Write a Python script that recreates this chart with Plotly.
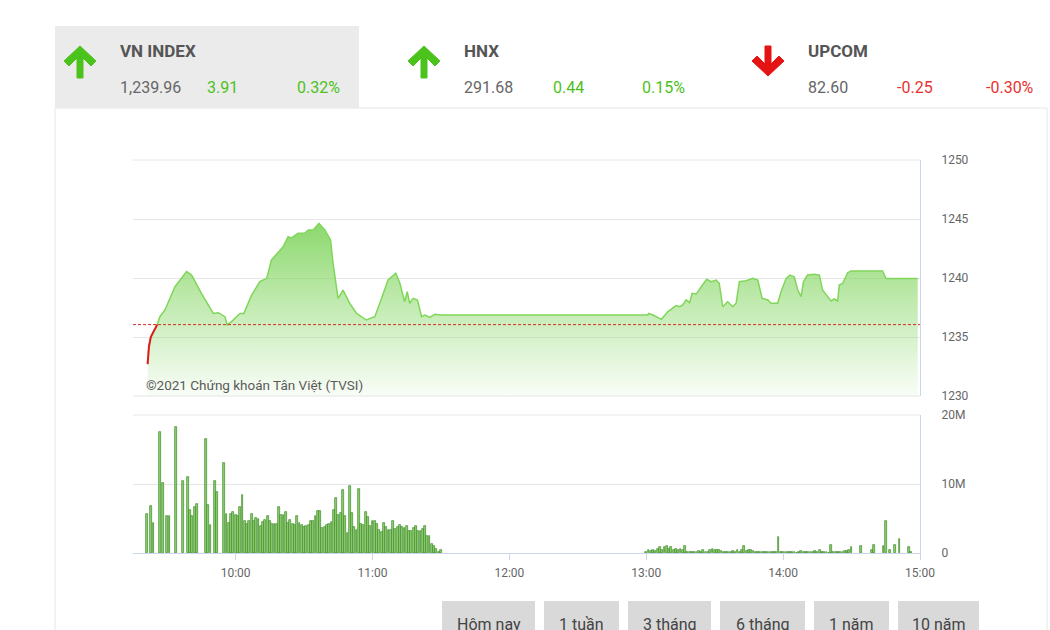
import pandas as pd
import plotly.graph_objects as go

DAY = "2021-01-04"

# ---------------- header data ----------------
idx_names = ["VN INDEX", "HNX", "UPCOM"]
idx_values = ["1,239.96", "291.68", "82.60"]
idx_changes = ["3.91", "0.44", "-0.25"]
idx_pcts = ["0.32%", "0.15%", "-0.30%"]
idx_up = [True, True, False]

# ---------------- price data (VN-Index intraday) ----------------
ref_price = 1236.05
price_time = [
    "09:21:24", "09:22:00", "09:22:48", "09:25:36", "09:26:48", "09:29:00", "09:33:24", "09:38:30",
    "09:40:42", "09:45:00", "09:50:12", "09:52:24", "09:55:18", "09:56:18", "09:58:12", "10:01:54",
    "10:03:36", "10:07:00", "10:10:36", "10:13:36", "10:15:42", "10:20:48", "10:23:00", "10:24:30",
    "10:27:24", "10:30:18", "10:31:48", "10:34:00", "10:36:30", "10:39:06", "10:41:36", "10:42:42",
    "10:44:54", "10:47:06", "10:50:00", "10:53:00", "10:57:18", "11:01:00", "11:03:12", "11:06:48",
    "11:10:12", "11:12:00", "11:14:06", "11:15:12", "11:16:18", "11:17:48", "11:19:42", "11:21:30",
    "11:22:54", "11:25:06", "11:27:18", "11:30:00", "13:00:42", "13:01:00", "13:02:54", "13:06:36",
    "13:09:30", "13:13:06", "13:14:36", "13:16:00", "13:17:30", "13:19:00", "13:20:06", "13:21:54",
    "13:24:06", "13:26:30", "13:28:24", "13:30:36", "13:32:00", "13:33:30", "13:35:42", "13:37:54",
    "13:39:24", "13:40:48", "13:43:48", "13:46:42", "13:48:54", "13:50:48", "13:53:18", "13:54:42",
    "13:57:36", "13:59:06", "14:01:18", "14:03:00", "14:04:54", "14:06:24", "14:07:54", "14:08:54",
    "14:10:42", "14:13:42", "14:15:54", "14:17:18", "14:19:30", "14:21:00", "14:22:24", "14:23:54",
    "14:24:36", "14:26:06", "14:28:18", "14:29:42", "14:43:36", "14:45:06", "14:59:00",
]
price_value = [
    1232.70, 1234.20, 1235.00, 1236.05, 1236.72, 1237.29, 1239.26, 1240.54,
    1240.25, 1238.70, 1237.00, 1237.06, 1236.72, 1236.02, 1236.30, 1237.00,
    1237.00, 1238.56, 1239.69, 1239.97, 1241.53, 1242.65, 1243.50, 1243.40,
    1243.79, 1243.79, 1244.07, 1244.07, 1244.63, 1244.07, 1243.22, 1241.24,
    1238.28, 1238.98, 1237.86, 1237.00, 1236.44, 1236.72, 1237.86, 1239.83,
    1240.40, 1239.55, 1237.99, 1238.84, 1237.86, 1238.28, 1238.14, 1236.72,
    1236.86, 1236.67, 1236.92, 1236.86, 1236.86, 1237.00, 1236.86, 1236.50,
    1237.15, 1237.66, 1237.57, 1237.71, 1238.14, 1237.91, 1238.70, 1238.64,
    1239.26, 1239.89, 1239.69, 1239.83, 1239.55, 1237.57, 1237.99, 1237.57,
    1237.86, 1239.69, 1239.77, 1239.97, 1239.83, 1238.28, 1238.14, 1237.86,
    1237.86, 1238.84, 1239.97, 1240.25, 1240.11, 1238.98, 1238.42, 1239.69,
    1240.25, 1240.31, 1240.25, 1238.98, 1238.42, 1238.05, 1238.22, 1238.05,
    1239.40, 1239.55, 1240.45, 1240.60, 1240.60, 1239.96, 1239.96,
]
price_ticks = [1230, 1235, 1240, 1245, 1250]

# ---------------- volume data (millions of shares) ----------------
vol_early_time = ["09:21", "09:23", "09:24", "09:27", "09:28", "09:30", "09:31", "09:34", "09:37", "09:39",
                  "09:40", "09:41", "09:42", "09:43", "09:47", "09:48", "09:49", "09:51", "09:52", "09:55"]
vol_early = [5.6, 6.8, 4.3, 17.6, 10.1, 5.3, 5.3, 18.2, 10.5, 11.0,
             6.3, 5.3, 6.6, 7.1, 16.5, 7.0, 4.0, 10.5, 8.8, 13.0]
vol_am_start = "09:56"
vol_am = [
    5.65, 4.35, 5.7, 6.0, 5.55, 5.3, 6.7, 8.45, 4.6, 4.2,
    4.6, 5.65, 4.6, 5.1, 4.9, 3.9, 4.5, 4.8, 5.3, 4.6,
    4.2, 4.2, 4.2, 6.6, 5.5, 5.5, 5.9, 4.4, 4.8, 4.2,
    4.0, 5.3, 4.35, 4.0, 3.7, 3.9, 4.0, 4.7, 4.6, 5.3,
    6.1, 6.1, 3.6, 3.8, 4.0, 4.25, 4.45, 6.2, 8.0, 5.55,
    5.8, 9.1, 5.3, 2.9, 9.75, 5.8, 3.75, 3.4, 9.3, 4.2,
    4.1, 5.9, 5.2, 3.9, 4.6, 4.7, 4.2, 3.4, 3.0, 4.35,
    3.75, 3.3, 3.3, 4.6, 3.5, 3.7, 4.0, 3.75, 3.6, 3.9,
    3.25, 3.15, 3.6, 3.9, 3.25, 3.25, 3.5, 3.9, 2.5, 2.5,
    1.35, 0.95, 0.6, 0.1, 0.4,
]
vol_pm_start = "13:00"
vol_pm = [
    0.15, 0.4, 0.3, 0.5, 0.3, 0.6, 0.8, 0.5, 0.8, 1.0,
    0.6, 0.8, 0.5, 0.6, 0.5, 0.6, 0.5, 1.05, 0.15, 0.15,
    0.1, 0.15, 0.1, 0.3, 0.2, 0.5, 0.15, 0.15, 0.5, 0.6,
    0.4, 0.5, 0.4, 0.3, 0.2, 0.2, 0.1, 0.1, 0.3, 0.2,
    0.5, 0.2, 0.4, 1.05, 0.3, 0.4, 0.5, 0.3, 0.1, 0.2,
    0.2, 0.2, 0.2, 0.2, 0.2, 0.2, 0.2, 0.2, 2.3, 0.2,
    0.2, 0.15, 0.2, 0.1, 0.15, 0.1, 0.0, 0.2, 0.3, 0.1,
    0.2, 0.15, 0.15, 0.2, 0.3, 0.2, 0.4, 0.1, 0.1, 0.15,
    0.0, 1.2, 0.15, 0.1, 0.1, 0.1, 0.1, 0.3, 0.3, 0.4,
    0.8,
]
vol_late_time = ["14:34", "14:39", "14:40", "14:44", "14:45", "14:47", "14:49", "14:51", "14:55", "14:56"]
vol_late = [1.0, 0.5, 1.2, 1.0, 4.7, 0.4, 1.2, 2.1, 0.8, 0.2]
vol_tickvals = [0, 10e6, 20e6]
vol_ticktext = ["0", "10M", "20M"]

buttons = ["Hôm nay", "1 tuần", "3 tháng", "6 tháng", "1 năm", "10 năm"]

# ---------------- helpers ----------------
W, H = 1050, 630
def px(x):
    return x / W
def py(y):
    return 1 - y / H

def ts(t):
    return pd.Timestamp(f"{DAY} {t}")

def minutes_from(start, n):
    base = ts(start)
    return [base + pd.Timedelta(minutes=i) for i in range(n)]

p_x = [ts(t) for t in price_time]
v_x = [ts(t) for t in vol_early_time] + minutes_from(vol_am_start, len(vol_am)) + \
      minutes_from(vol_pm_start, len(vol_pm)) + [ts(t) for t in vol_late_time]
v_y = [v * 1e6 for v in vol_early + vol_am + vol_pm + vol_late]

# points below reference price (opening dip) drawn in red
n_red = 0
for v in price_value:
    if v < ref_price:
        n_red += 1
    else:
        break

fig = go.Figure()

fig.add_trace(go.Scatter(
    x=p_x, y=price_value, mode="lines",
    line=dict(color="#80d65a", width=1.5),
    fill="tozeroy",
    fillgradient=dict(type="vertical", start=1230, stop=1247,
                      colorscale=[[0, "rgba(135,215,100,0.05)"], [1, "rgba(120,210,85,1)"]]),
    xaxis="x", yaxis="y", hoverinfo="skip", showlegend=False,
))
fig.add_trace(go.Scatter(
    x=p_x[:n_red + 1], y=price_value[:n_red + 1], mode="lines",
    line=dict(color="#e01b1b", width=2),
    xaxis="x", yaxis="y", hoverinfo="skip", showlegend=False,
))
fig.add_trace(go.Bar(
    x=v_x, y=v_y, width=48000,
    marker=dict(color="#8fcc72", line=dict(width=0.7, color="#3c8c27")),
    xaxis="x2", yaxis="y2", hoverinfo="skip", showlegend=False,
))

x_range = [ts("09:15"), ts("15:00")]
dom_x = [px(133), px(920)]
tickfont = dict(family="Roboto, sans-serif", size=12, color="#666666")
GRID = "#e6e6e6"

fig.update_layout(
    template="none",
    width=W, height=H,
    margin=dict(l=0, r=0, t=0, b=0, pad=0, autoexpand=False),
    paper_bgcolor="white", plot_bgcolor="rgba(0,0,0,0)",
    font=dict(family="Roboto, sans-serif", color="#555555"),
    bargap=0,
    xaxis=dict(domain=dom_x, anchor="y", type="date", range=x_range, automargin=False,
               showticklabels=False, showgrid=False, zeroline=False, showline=False, ticks=""),
    yaxis=dict(domain=[py(396), py(160)], range=[1230, 1250], side="right", anchor="x",
               automargin=False,
               tickvals=price_ticks, showgrid=True, gridcolor=GRID, gridwidth=1,
               zeroline=False, showline=True, linecolor="#ccd6eb", linewidth=1,
               ticks="", ticklabelstandoff=18, tickfont=tickfont),
    xaxis2=dict(domain=dom_x, anchor="y2", type="date", range=x_range, automargin=False,
                tickformat="%H:%M", dtick=3600000, tick0=ts("10:00"),
                showgrid=False, zeroline=False, showline=True, linecolor="#ccd6eb", linewidth=1,
                ticks="outside", ticklen=6, tickcolor="#ccd6eb", tickwidth=1,
                ticklabelstandoff=3, tickfont=tickfont),
    yaxis2=dict(domain=[py(553), py(415)], range=[0, 20e6], side="right", anchor="x2",
                automargin=False,
                tickvals=vol_tickvals, ticktext=vol_ticktext,
                showgrid=True, gridcolor=GRID, gridwidth=1, zeroline=False,
                showline=True, linecolor="#ccd6eb", linewidth=1,
                ticks="", ticklabelstandoff=18, tickfont=tickfont),
)

shapes = []
# white panel border
shapes.append(dict(type="rect", xref="paper", yref="paper", x0=px(55), x1=px(1047),
                   y0=py(700), y1=py(108), line=dict(color="#e6e6e6", width=1),
                   fillcolor="rgba(0,0,0,0)", layer="below"))
# header highlight box
shapes.append(dict(type="rect", xref="paper", yref="paper", x0=px(55), x1=px(359),
                   y0=py(108), y1=py(26), line=dict(width=0), fillcolor="#ebebeb", layer="below"))
# edge grid lines of both panes (top/bottom of price pane, top of volume pane)
for yref, yv in [("y domain", 1), ("y domain", 0), ("y2 domain", 1)]:
    shapes.append(dict(type="line", xref="x domain", yref=yref, x0=0, x1=1, y0=yv, y1=yv,
                       line=dict(color=GRID, width=1), layer="below"))
# reference price dashed line
shapes.append(dict(type="line", xref="x domain", yref="y", x0=0, x1=1, y0=ref_price, y1=ref_price,
                   line=dict(color="#d42a2a", width=1, dash="3px,2px")))

def poly(points):
    return "M " + " L ".join(f"{px(a):.5f},{py(b):.5f}" for a, b in points) + " Z"

def up_arrow(cx):
    pts = [(cx, 46), (cx + 16, 61), (cx + 11, 66), (cx + 3, 58), (cx + 3, 78),
           (cx - 3, 78), (cx - 3, 58), (cx - 11, 66), (cx - 16, 61)]
    return poly(pts)

def down_arrow(cx):
    pts = [(cx, 76), (cx + 16, 61), (cx + 11, 56), (cx + 3, 64), (cx + 3, 46),
           (cx - 3, 46), (cx - 3, 64), (cx - 11, 56), (cx - 16, 61)]
    return poly(pts)

arrow_x = [80, 424, 768]
for cx, up in zip(arrow_x, idx_up):
    col = "#4cc21c" if up else "#e41414"
    shapes.append(dict(type="path", xref="paper", yref="paper",
                       path=up_arrow(cx) if up else down_arrow(cx),
                       fillcolor=col, line=dict(color=col, width=1)))

# period buttons
btn_x = [(442, 535), (544, 619), (628, 711), (720, 805), (814, 889), (898, 979)]
for x0, x1 in btn_x:
    shapes.append(dict(type="rect", xref="paper", yref="paper", x0=px(x0), x1=px(x1),
                       y0=py(660), y1=py(601), line=dict(width=0), fillcolor="#d9d9d9"))

annotations = []
name_x = [118, 462, 806]
chg_x = [205, 551, 895]
pct_x = [295, 640, 984]
for i in range(3):
    col = "#4cc21c" if idx_up[i] else "#e8312f"
    annotations.append(dict(x=px(name_x[i]), y=py(51), text=f"<b>{idx_names[i]}</b>",
                            font=dict(size=17, color="#555555")))
    annotations.append(dict(x=px(name_x[i]), y=py(88), text=idx_values[i],
                            font=dict(size=16, color="#666666")))
    annotations.append(dict(x=px(chg_x[i]), y=py(88), text=idx_changes[i],
                            font=dict(size=16, color=col)))
    annotations.append(dict(x=px(pct_x[i]), y=py(88), text=idx_pcts[i],
                            font=dict(size=16, color=col)))

annotations.append(dict(x=px(144), y=py(385), text="©2021 Chứng khoán Tân Việt (TVSI)",
                        font=dict(size=13.5, color="#5a5a5a")))

for (x0, x1), label in zip(btn_x, buttons):
    annotations.append(dict(x=px((x0 + x1) / 2), y=py(624), text=label, xanchor="center",
                            font=dict(size=16, color="#444444")))

for a in annotations:
    a.setdefault("xanchor", "left")
    a.update(xref="paper", yref="paper", yanchor="middle", showarrow=False)
    a["font"]["family"] = "Roboto, sans-serif"

fig.update_layout(shapes=shapes, annotations=annotations)

fig.write_html("out.html")
